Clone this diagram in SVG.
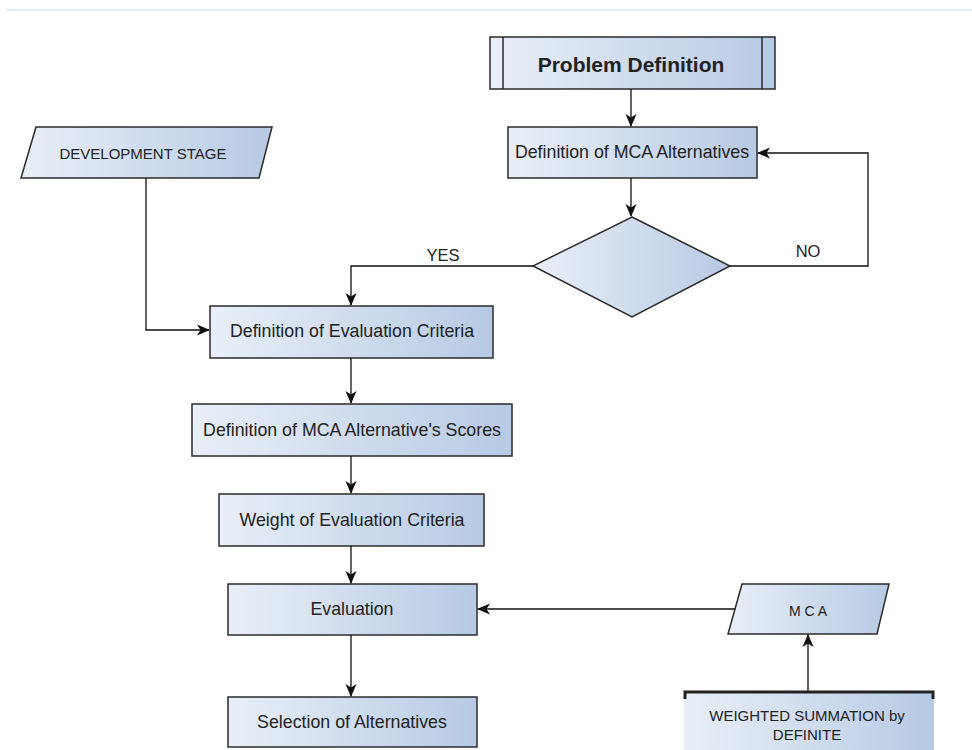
<svg xmlns="http://www.w3.org/2000/svg" width="972" height="750" viewBox="0 0 972 750">
<defs>
<linearGradient id="g" x1="0" y1="0" x2="1" y2="0">
<stop offset="0" stop-color="#e9eff8"/>
<stop offset="1" stop-color="#b7cae4"/>
</linearGradient>
<marker id="ah" markerWidth="13" markerHeight="13" viewBox="0 0 13 13" refX="12" refY="6.5" orient="auto" markerUnits="userSpaceOnUse">
<path d="M0,1 L13,6.5 L0,12 L3.5,6.5 Z" fill="#111"/>
</marker>
<style>
.n{fill:url(#g);stroke:#2b2b2b;stroke-width:1.5}
.t{font-family:"Liberation Sans",Arial,sans-serif;font-size:17.8px;fill:#222;text-anchor:middle;dominant-baseline:central}
.c{fill:none;stroke:#111;stroke-width:1.3;marker-end:url(#ah)}
</style>
</defs>
<rect width="972" height="750" fill="#fff"/>
<line x1="7" y1="10" x2="972" y2="10" stroke="#cfe6f7" stroke-width="1.5"/>

<g id="problem-definition">
<rect class="n" x="490" y="37" width="285" height="52"/>
<line x1="503" y1="37" x2="503" y2="89" stroke="#2b2b2b" stroke-width="1.5"/>
<line x1="762" y1="37" x2="762" y2="89" stroke="#2b2b2b" stroke-width="1.5"/>
<text class="t" x="631" y="64" style="font-size:21px;font-weight:bold">Problem Definition</text>
</g>
<g id="mca-alternatives">
<rect class="n" x="508" y="127" width="249" height="51"/>
<text class="t" x="632" y="152">Definition of MCA Alternatives</text>
</g>
<g id="development-stage">
<polygon class="n" points="36,127 272,127 259,178 21,178"/>
<text class="t" x="143" y="153" style="font-size:15px">DEVELOPMENT STAGE</text>
</g>
<g id="decision">
<polygon class="n" points="632,217 730,266 632,317 533,266"/>
</g>
<g id="evaluation-criteria">
<rect class="n" x="210" y="306" width="283" height="52"/>
<text class="t" x="352" y="331">Definition of Evaluation Criteria</text>
</g>
<g id="alternative-scores">
<rect class="n" x="192" y="404" width="320" height="52"/>
<text class="t" x="352" y="430">Definition of MCA Alternative's Scores</text>
</g>
<g id="weight-criteria">
<rect class="n" x="219" y="494" width="265" height="52"/>
<text class="t" x="352" y="520">Weight of Evaluation Criteria</text>
</g>
<g id="evaluation">
<rect class="n" x="228" y="584" width="249" height="51"/>
<text class="t" x="352" y="609">Evaluation</text>
</g>
<g id="selection">
<rect class="n" x="228" y="697" width="249" height="50"/>
<text class="t" x="352" y="722">Selection of Alternatives</text>
</g>
<g id="mca">
<polygon class="n" points="742,584 889,584 877,634 728,634"/>
<text class="t" x="808" y="611" style="font-size:14px">M C A</text>
</g>
<g id="weighted-summation">
<rect x="684" y="692" width="250" height="60" fill="url(#g)"/>
<path d="M685,699 V692 H933 V699" fill="none" stroke="#222" stroke-width="3"/>
<text class="t" x="807" y="715" style="font-size:15px">WEIGHTED SUMMATION by</text>
<text class="t" x="807" y="734" style="font-size:15px">DEFINITE</text>
</g>

<g id="connectors">
<path class="c" d="M631,89 V126"/>
<path class="c" d="M631,178 V216"/>
<path class="c" d="M730,266 H868 V153 H758"/>
<path class="c" d="M533,266 H351 V305"/>
<path class="c" d="M146,178 V330 H209"/>
<path class="c" d="M351,358 V403"/>
<path class="c" d="M351,456 V493"/>
<path class="c" d="M351,546 V583"/>
<path class="c" d="M351,635 V696"/>
<path class="c" d="M735,609 H478"/>
<path class="c" d="M808,691 V635"/>
<text class="t" x="443" y="255" style="font-size:16.5px">YES</text>
<text class="t" x="808" y="251" style="font-size:16.5px">NO</text>
</g>
</svg>
